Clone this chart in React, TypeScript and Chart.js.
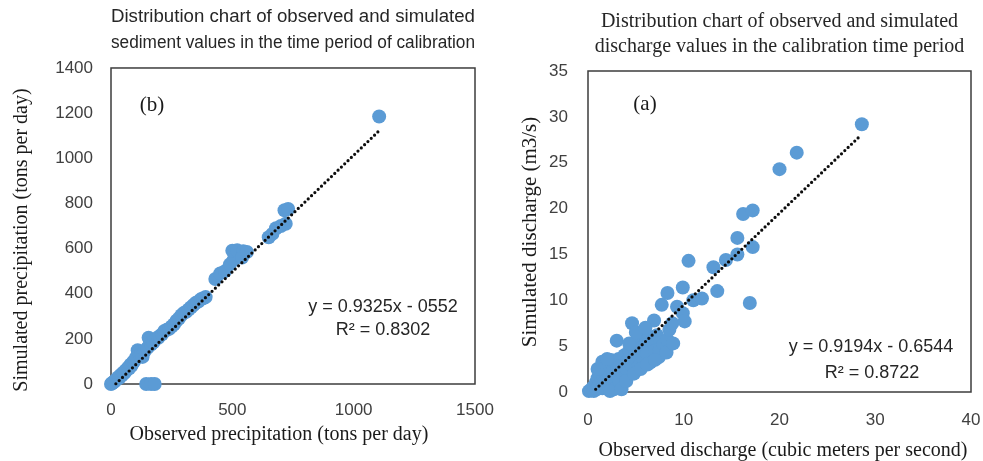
import React, { useEffect, useRef } from "react";
import { Chart, registerables } from "chart.js";

Chart.register(...registerables);

// ---------- Data: sediment (left panel, "b") ----------
const sedObserved = [
  0, 5, 10, 15, 20, 25, 30, 35, 40, 45, 50, 55, 60, 65, 70, 75, 80, 85, 90, 95, 100, 105, 110, 115, 120, 125, 130, 135, 140,
  150, 155, 160, 165, 170, 175,
  185, 195, 200,
  210, 220, 230, 240, 250, 260, 270, 280, 290, 300, 310, 320, 330, 340, 350, 360, 370, 380, 390,
  430, 450, 470, 490, 505, 500, 520, 545, 540, 560,
  650, 665, 680, 700, 720, 715, 730,
  145, 165, 180,
  1105,
];
const sedSimulated = [
  0, 3, 8, 12, 18, 22, 30, 28, 40, 38, 50, 48, 60, 62, 72, 70, 85, 82, 95, 100, 110, 120, 150, 140, 125, 135, 120, 140, 148,
  160, 205, 195, 175, 190, 185,
  200, 205, 212,
  220, 235, 240, 245, 255, 265, 280, 290, 305, 315, 320, 330, 340, 350, 360, 365, 375, 380, 385,
  465, 490, 500, 530, 550, 590, 592, 588, 560, 585,
  650, 665, 690, 700, 710, 770, 775,
  0, 0, 0,
  1185,
];
const sedTrendX = [20, 1105];
const sedTrendY = [1, 1122];
const sedXTicks = [0, 500, 1000, 1500];
const sedYTicks = [0, 200, 400, 600, 800, 1000, 1200, 1400];

// ---------- Data: discharge (right panel, "a") ----------
const disObserved = [
  0.1, 0.3, 0.5, 0.6, 0.8, 0.9, 1.0, 1.1, 1.2, 1.3, 1.4, 1.5, 1.6, 1.7, 1.8, 1.9, 2.0, 2.1, 2.2, 2.3,
  2.4, 2.5, 2.6, 2.7, 2.8, 2.9, 3.0, 3.1, 3.2, 3.3, 3.5, 3.6, 3.8, 4.0, 4.1, 4.3, 4.5, 4.6, 4.7, 4.9,
  5.0, 5.2, 5.3, 5.5, 5.6, 5.8, 6.0, 6.2, 6.4, 6.5, 6.7, 6.9, 7.0, 7.2, 7.4, 7.5, 7.7, 7.9, 8.3, 8.3,
  8.5, 8.8, 9.3, 9.9, 9.9, 10.1, 10.5, 11.0, 11.9, 13.1, 13.5, 14.4, 15.6, 15.6, 16.2, 16.9, 17.2, 17.2,
  20.0, 21.8, 28.6,
  2.3, 3.5, 4.0, 4.8, 5.5, 6.2, 7.0, 8.2, 8.9, 1.0, 1.5, 2.0, 4.3, 5.0, 6.0,
];
const disSimulated = [
  0.1, 0.2, 0.5, 0.1, 1.0, 0.3, 1.5, 0.6, 2.0, 1.0, 2.6, 0.4, 1.8, 3.0, 1.2, 2.4, 3.3, 0.8, 1.9, 2.8,
  3.5, 1.4, 2.4, 0.3, 3.2, 1.8, 5.6, 2.6, 3.6, 1.2, 2.2, 3.0, 4.0, 2.6, 3.4, 4.5, 3.0, 7.5, 5.0, 3.8,
  4.4, 5.6, 2.8, 4.8, 6.5, 3.6, 5.2, 4.2, 6.0, 3.2, 5.5, 7.8, 4.5, 6.2, 3.8, 4.6, 9.5, 5.2, 5.7, 10.8,
  6.8, 7.5, 9.3, 8.6, 11.4, 7.7, 14.3, 10.0, 10.2, 13.6, 11.0, 14.4, 15.0, 16.8, 19.4, 9.7, 15.8, 19.8,
  24.3, 26.1, 29.2,
  0.1, 0.3, 1.2, 2.0, 2.5, 3.0, 3.5, 4.3, 5.3, 2.5, 3.3, 3.6, 5.3, 6.5, 7.0,
];
const disTrendX = [0.8, 28.5];
const disTrendY = [0.3, 28.0];
const disXTicks = [0, 10, 20, 30, 40];
const disYTicks = [0, 5, 10, 15, 20, 25, 30, 35];

// ---------- Styles ----------
const SANS = '"Liberation Sans", Arial, sans-serif';
const SERIF = '"Liberation Serif", "Times New Roman", serif';
const MARKER = "#5B9BD5";
const TICK_COLOR = "#404040";
const TEXT_DARK = "#1a1a1a";

const pairs = (xs: number[], ys: number[]) => xs.map((x, i) => ({ x, y: ys[i] }));

type TextItem = { text: string; x: number; y: number; font: string; color: string; rotate?: number };

const textPlugin = {
  id: "texts",
  beforeDatasetsDraw(chart: any, _args: any, opts: any) {
    const { left, right, top, bottom } = chart.chartArea;
    const ctx = chart.ctx;
    ctx.save();
    ctx.strokeStyle = opts.frameColor || "#404040";
    ctx.lineWidth = opts.frameWidth || 1.5;
    ctx.strokeRect(left, top, right - left, bottom - top);
    ctx.restore();
  },
  afterDraw(chart: any, _args: any, opts: any) {
    const ctx = chart.ctx;
    const items: TextItem[] = opts.items || [];
    for (const t of items) {
      ctx.save();
      ctx.translate(t.x, t.y);
      if (t.rotate) ctx.rotate(t.rotate);
      ctx.font = t.font;
      ctx.fillStyle = t.color;
      ctx.textAlign = "center";
      ctx.textBaseline = "middle";
      ctx.fillText(t.text, 0, 0);
      ctx.restore();
    }
  },
};

function makeConfig(p: {
  obs: number[];
  sim: number[];
  trendX: number[];
  trendY: number[];
  xTicks: number[];
  yTicks: number[];
  title: string[];
  titleFont: any;
  titlePadding: { top: number; bottom: number };
  yWidth: number;
  xHeight: number;
  padRight: number;
  yTickPad: number;
  xTickPad: number;
  items: TextItem[];
}) {
  const setTicks = (arr: number[]) => (scale: any) => {
    scale.ticks = arr.map((v) => ({ value: v }));
  };
  const plain = (v: any) => String(v);
  return {
    type: "scatter" as const,
    data: {
      datasets: [
        {
          label: "Trend",
          data: pairs(p.trendX, p.trendY),
          showLine: true,
          borderColor: "#0d0d0d",
          borderWidth: 3.2,
          borderDash: [0, 4.6],
          borderCapStyle: "round",
          pointRadius: 0,
          pointHoverRadius: 0,
          fill: false,
          clip: false,
        },
        {
          label: "Observed vs simulated",
          data: pairs(p.obs, p.sim),
          backgroundColor: MARKER,
          borderColor: MARKER,
          borderWidth: 0,
          pointRadius: 7,
          pointHoverRadius: 7,
          clip: false,
        },
      ],
    },
    options: {
      animation: false,
      responsive: false,
      devicePixelRatio: 1,
      layout: { padding: { left: 0, right: p.padRight, top: 0, bottom: 0 } },
      plugins: {
        legend: { display: false },
        tooltip: { enabled: false },
        title: {
          display: true,
          text: p.title,
          font: p.titleFont,
          color: "#262626",
          padding: p.titlePadding,
          fullSize: false,
        },
        texts: { items: p.items, frameColor: "#3d3d3d", frameWidth: 1.5 },
      },
      scales: {
        x: {
          type: "linear",
          min: p.xTicks[0],
          max: p.xTicks[p.xTicks.length - 1],
          afterBuildTicks: setTicks(p.xTicks),
          grid: { display: false, drawTicks: false },
          border: { display: false },
          ticks: {
            font: { family: SANS, size: 17 },
            color: TICK_COLOR,
            padding: p.xTickPad,
            maxRotation: 0,
            autoSkip: false,
            callback: plain,
          },
          afterFit: (s: any) => {
            s.height = p.xHeight;
            s.paddingLeft = 0;
            s.paddingRight = 0;
          },
        },
        y: {
          type: "linear",
          min: p.yTicks[0],
          max: p.yTicks[p.yTicks.length - 1],
          afterBuildTicks: setTicks(p.yTicks),
          grid: { display: false, drawTicks: false },
          border: { display: false },
          ticks: {
            font: { family: SANS, size: 17 },
            color: TICK_COLOR,
            padding: p.yTickPad,
            autoSkip: false,
            callback: plain,
          },
          afterFit: (s: any) => {
            s.width = p.yWidth;
            s.paddingTop = 0;
            s.paddingBottom = 0;
          },
        },
      },
    },
    plugins: [textPlugin],
  };
}

export default function App() {
  const leftRef = useRef<HTMLCanvasElement | null>(null);
  const rightRef = useRef<HTMLCanvasElement | null>(null);

  useEffect(() => {
    const charts: Chart[] = [];
    if (leftRef.current) {
      charts.push(
        new Chart(
          leftRef.current,
          makeConfig({
            obs: sedObserved,
            sim: sedSimulated,
            trendX: sedTrendX,
            trendY: sedTrendY,
            xTicks: sedXTicks,
            yTicks: sedYTicks,
            title: [
              "Distribution chart of observed and simulated",
              "sediment values in the time period of calibration",
            ],
            titleFont: { family: SANS, size: 18.7, weight: "normal", lineHeight: 1.39 },
            titlePadding: { top: 4, bottom: 12 },
            yWidth: 111,
            xHeight: 77,
            padRight: 25,
            yTickPad: 18,
            xTickPad: 16,
            items: [
              { text: "Observed precipitation (tons per day)", x: 279, y: 435, font: `20px ${SERIF}`, color: TEXT_DARK },
              { text: "Simulated precipitation (tons per day)", x: 22, y: 240, font: `20px ${SERIF}`, color: TEXT_DARK, rotate: -Math.PI / 2 },
              { text: "(b)", x: 152, y: 105, font: `21px ${SERIF}`, color: TEXT_DARK },
              { text: "y = 0.9325x - 0552", x: 383, y: 307, font: `18px ${SANS}`, color: "#262626" },
              { text: "R² = 0.8302", x: 383, y: 330, font: `18px ${SANS}`, color: "#262626" },
            ],
          }) as any
        )
      );
    }
    if (rightRef.current) {
      charts.push(
        new Chart(
          rightRef.current,
          makeConfig({
            obs: disObserved,
            sim: disSimulated,
            trendX: disTrendX,
            trendY: disTrendY,
            xTicks: disXTicks,
            yTicks: disYTicks,
            title: [
              "Distribution chart of observed and simulated",
              "discharge values in the calibration time period",
            ],
            titleFont: { family: SERIF, size: 20, weight: "normal", lineHeight: 1.25 },
            titlePadding: { top: 9, bottom: 12 },
            yWidth: 108,
            xHeight: 69,
            padRight: 12,
            yTickPad: 20,
            xTickPad: 18,
            items: [
              { text: "Observed discharge (cubic meters per second)", x: 303, y: 451, font: `20px ${SERIF}`, color: TEXT_DARK },
              { text: "Simulated discharge (m3/s)", x: 50, y: 232, font: `21px ${SERIF}`, color: TEXT_DARK, rotate: -Math.PI / 2 },
              { text: "(a)", x: 165, y: 104, font: `21px ${SERIF}`, color: TEXT_DARK },
              { text: "y = 0.9194x - 0.6544", x: 391, y: 347, font: `18px ${SANS}`, color: "#262626" },
              { text: "R² = 0.8722", x: 392, y: 373, font: `18px ${SANS}`, color: "#262626" },
            ],
          }) as any
        )
      );
    }
    return () => charts.forEach((c) => c.destroy());
  }, []);

  return (
    <div style={{ position: "absolute", left: 0, top: 0, width: 983, height: 461, background: "#ffffff", overflow: "hidden" }}>
      <canvas ref={rightRef} width={503} height={461} style={{ position: "absolute", left: 480, top: 0, width: 503, height: 461 }} />
      <canvas ref={leftRef} width={500} height={461} style={{ position: "absolute", left: 0, top: 0, width: 500, height: 461 }} />
    </div>
  );
}
